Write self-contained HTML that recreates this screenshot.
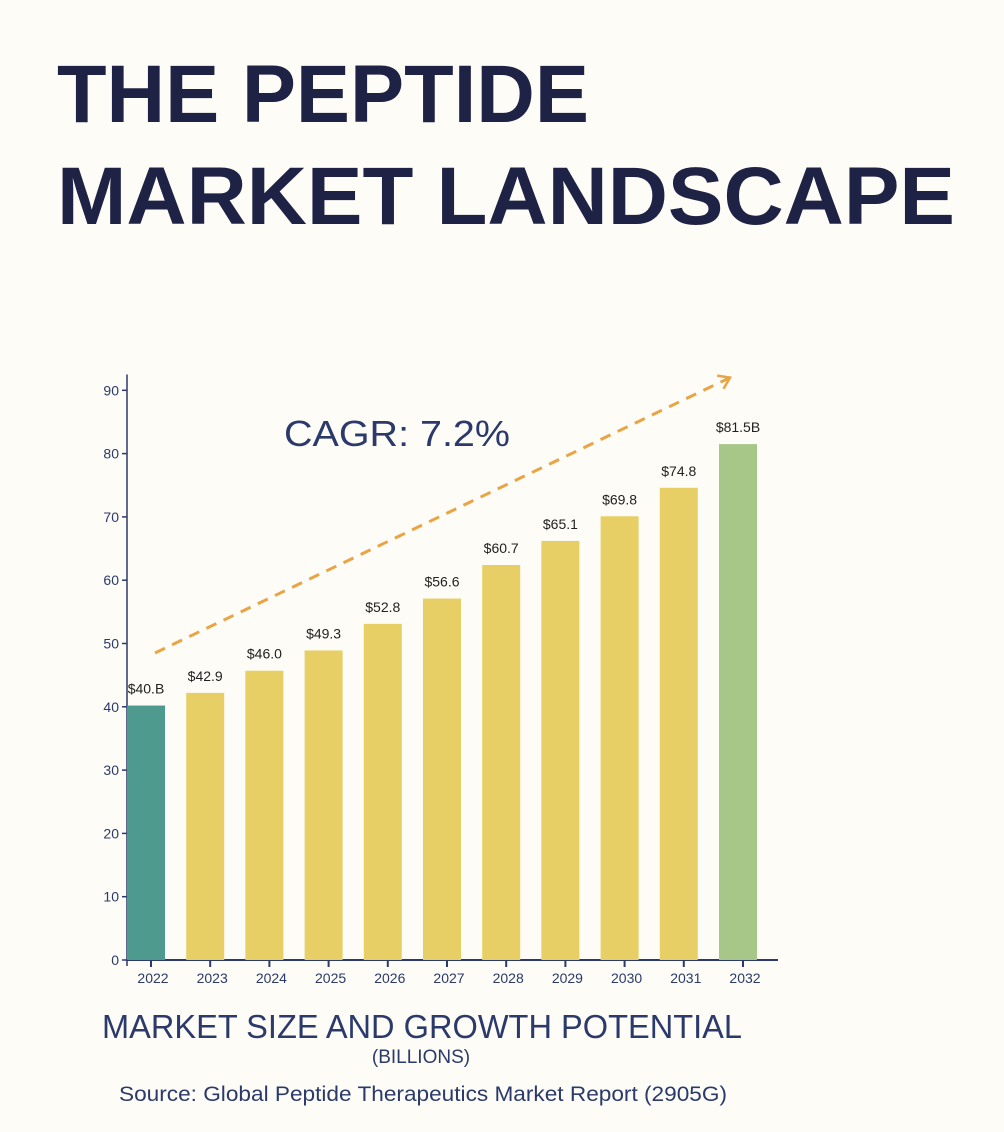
<!DOCTYPE html>
<html><head><meta charset="utf-8"><style>
html,body{margin:0;padding:0;background:#fdfcf6;}
svg{display:block;font-family:"Liberation Sans",sans-serif;}
</style></head><body>
<svg id="c" width="1004" height="1132" viewBox="0 0 1004 1132">
<rect width="1004" height="1132" fill="#fdfcf6"/>
<text x="57" y="122" font-size="82" font-weight="bold" fill="#1e2245" textLength="532" lengthAdjust="spacingAndGlyphs">THE PEPTIDE</text>
<text x="57" y="224" font-size="82" font-weight="bold" fill="#1e2245" textLength="898" lengthAdjust="spacingAndGlyphs">MARKET LANDSCAPE</text>
<g id="plot"></g>
<text x="397" y="446" font-size="36" fill="#2b3a6b" text-anchor="middle" textLength="226" lengthAdjust="spacingAndGlyphs">CAGR: 7.2%</text>
<text x="422" y="1038" font-size="33" fill="#2b3a6b" text-anchor="middle" textLength="640" lengthAdjust="spacingAndGlyphs">MARKET SIZE AND GROWTH POTENTIAL</text>
<text x="421" y="1063" font-size="19" fill="#2b3a6b" text-anchor="middle">(BILLIONS)</text>
<text x="423" y="1101" font-size="21" fill="#2b3a6b" text-anchor="middle" textLength="608" lengthAdjust="spacingAndGlyphs">Source: Global Peptide Therapeutics Market Report (2905G)</text>
</svg>
<script>
const years=["2022","2023","2024","2025","2026","2027","2028","2029","2030","2031","2032"];
const values=[40.2,42.2,45.7,48.9,53.1,57.1,62.4,66.2,70.1,74.6,81.5];
const valueLabels=["$40.B","$42.9","$46.0","$49.3","$52.8","$56.6","$60.7","$65.1","$69.8","$74.8","$81.5B"];
const yTicks=[0,10,20,30,40,50,60,70,80,90];
const trendStart=48.5, trendEnd=92;

const NS="http://www.w3.org/2000/svg";
const g=document.getElementById('plot');
const x0=127,y0=960,pxPerUnit=6.33,step=59.2,bw=38;
const y=v=>y0-v*pxPerUnit;
const xc=i=>x0+19+i*step;
function mk(t,a){const e=document.createElementNS(NS,t);for(const k in a)e.setAttribute(k,a[k]);g.appendChild(e);return e;}
const ya=mk('line',{x1:x0,y1:y(92.5),x2:x0,y2:y0+6,stroke:'#2b3a6b','stroke-width':1.5});


const xa=mk('line',{x1:x0-1,y1:y0,x2:778,y2:y0,stroke:'#2b3a6b','stroke-width':2});


yTicks.forEach(t=>{
  const l=mk('line',{x1:x0-5,y1:y(t),x2:x0,y2:y(t),stroke:'#2b3a6b','stroke-width':1.5});
  
  
  const tx=mk('text',{x:x0-8,y:y(t)+5,'font-size':14,fill:'#2b3a6b','text-anchor':'end'});
  tx.textContent=t;
  
  
});
years.forEach((yr,i)=>{
  const c=xc(i);
  const col=i===0?'#4f9a8f':(i===years.length-1?'#a6c788':'#e7cf66');
  const b=mk('rect',{x:c-bw/2,y:y(values[i]),width:bw,height:y0-y(values[i]),fill:col});
  
  
  const lb=mk('text',{x:c,y:y(values[i])-12,'font-size':14,fill:'#222','text-anchor':'middle'});
  lb.textContent=valueLabels[i];
  
  
  const tk=mk('line',{x1:c+5,y1:y0,x2:c+5,y2:y0+7,stroke:'#2b3a6b','stroke-width':2});
  
  
  const xl=mk('text',{x:c+7,y:y0+23,'font-size':14,fill:'#2b3a6b','text-anchor':'middle'});
  xl.textContent=yr;
  
  
});
const ax1=xc(0)+9,ay1=y(trendStart),ax2=730,ay2=y(trendEnd);
const tl=mk('line',{x1:ax1,y1:ay1,x2:ax2,y2:ay2,stroke:'#e9a445','stroke-width':3,'stroke-dasharray':'11 8'});


const ang=Math.atan2(ay2-ay1,ax2-ax1),L=13;
const hp=mk('polyline',{points:`${ax2-L*Math.cos(ang-0.6)},${ay2-L*Math.sin(ang-0.6)} ${ax2},${ay2} ${ax2-L*Math.cos(ang+0.6)},${ay2-L*Math.sin(ang+0.6)}`,fill:'none',stroke:'#e9a445','stroke-width':2.5});


</script>
</body></html>
